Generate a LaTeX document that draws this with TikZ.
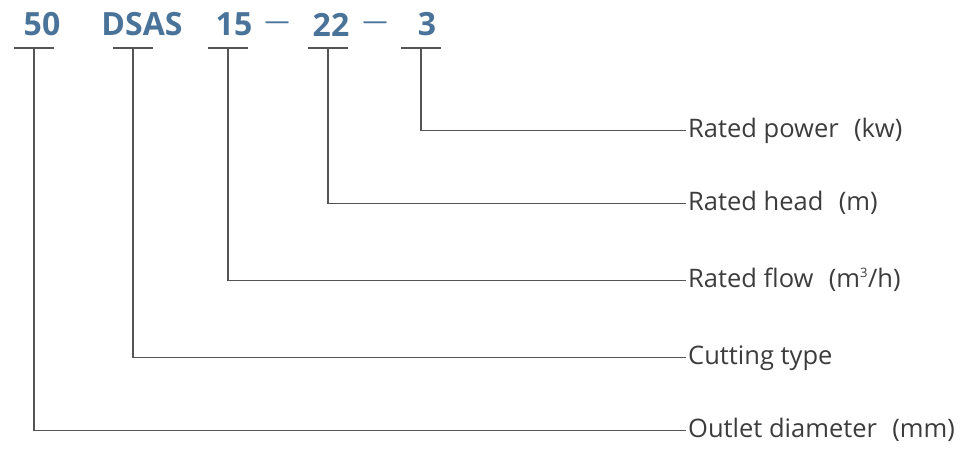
\documentclass[tikz,border=0pt]{standalone}
\usepackage{fontspec}
\setmainfont{Open Sans}
\definecolor{codeblue}{HTML}{4A7399}
\definecolor{textgray}{HTML}{3C3C3C}
\definecolor{linegray}{HTML}{555555}
\begin{document}
\begin{tikzpicture}[x=1pt,y=-1pt,
	code/.style={font=\fontsize{32}{32}\selectfont\bfseries, text=codeblue, inner sep=0pt},
	sep/.style={font=\fontsize{25}{25}\selectfont, text=codeblue, inner sep=0pt},
	desc/.style={font=\fontsize{25.5}{25.5}\selectfont, text=textgray, anchor=west, inner xsep=2pt, inner ysep=0pt, text height=19pt, text depth=6pt},
	bar/.style={draw=linegray, line width=1.3pt},
	lead/.style={draw=linegray, line width=1.1pt}]
	\useasboundingbox (0,0) rectangle (966,448);
	\node[code] (c50) at (42,24.5) {50};
	\node[code] (cdsas) at (142,24.5) {DSAS};
	\node[code] (c15) at (234,24.5) {15};
	\node[sep] (d1) at (277,26) {—};
	\node[code] (c22) at (331,24.5) {22};
	\node[sep] (d2) at (375,26) {—};
	\node[code] (c3) at (427,24.5) {3};
	\coordinate (b50) at (34,48);
	\coordinate (bdsas) at (133,48);
	\coordinate (b15) at (228,48);
	\coordinate (b22) at (328,48);
	\coordinate (b3) at (421,48);
	\foreach \b in {b50,bdsas,b15,b22,b3}
		\draw[bar] ([xshift=-20pt]\b) -- ([xshift=20pt]\b);
	\node[desc] (lpower) at (686,130.5) {Rated power\hspace{0.6em}(kw)};
	\node[desc] (lhead) at (686,203.5) {Rated head\hspace{0.6em}(m)};
	\node[desc] (lflow) at (686,280.5) {Rated flow\hspace{0.6em}(m\textsuperscript{\fontsize{13}{13}\selectfont 3}/h)};
	\node[desc] (ltype) at (686,357.5) {Cutting type};
	\node[desc] (ldiam) at (686,430.5) {Outlet diameter\hspace{0.6em}(mm)};
	\draw[lead] (b3) |- (lpower.west);
	\draw[lead] (b22) |- (lhead.west);
	\draw[lead] (b15) |- (lflow.west);
	\draw[lead] (bdsas) |- (ltype.west);
	\draw[lead] (b50) |- (ldiam.west);
\end{tikzpicture}
\end{document}
